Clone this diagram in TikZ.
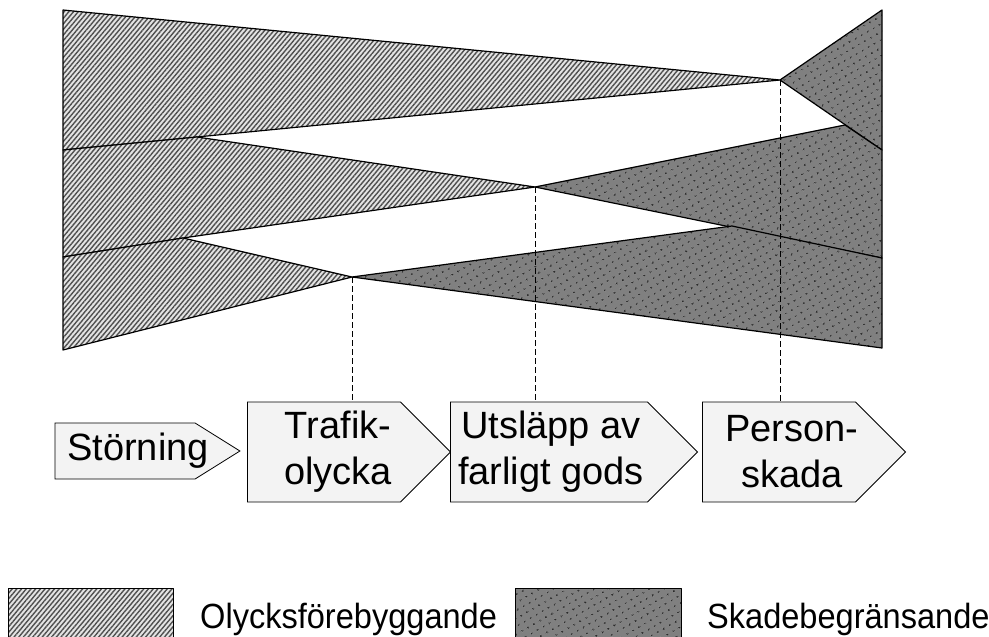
\documentclass[tikz,border=0pt]{standalone}
\usepackage{fontspec}
\setmainfont{Liberation Sans}
\newfontfamily\legendfont[FakeStretch=0.93]{Liberation Sans}
\usetikzlibrary{patterns.meta,shapes.symbols}

\definecolor{hatchbg}{HTML}{E4E4E4}
\definecolor{hatchfg}{HTML}{505050}
\definecolor{dotbg}{HTML}{808080}
\definecolor{dotfg}{HTML}{2A2A2A}
\definecolor{stagefill}{HTML}{F3F3F3}

\tikzset{
  prevent/.style={preaction={fill=hatchbg},
    pattern={Lines[angle=50,distance=3.6pt,line width=1.4pt]},
    pattern color=hatchfg, draw=black, line width=1.2pt, line join=round},
  limit/.style={preaction={fill=dotbg},
    pattern={Dots[angle=30,distance=6.5pt,radius=1.1pt]},
    pattern color=dotfg, draw=black, line width=1.2pt, line join=round},
  stage/.style={signal, signal to=east, draw, line width=0.8pt,
    fill=stagefill, inner sep=0pt,
    minimum height=100pt, minimum width=203pt, signal pointer angle=90},
  stagetext/.style={align=center, inner sep=0pt,
    font=\fontsize{38}{46}\selectfont},
  guide/.style={dash pattern=on 6pt off 3pt, line width=0.9pt},
}

\begin{document}
\begin{tikzpicture}[x=1pt, y=-1pt]
    \useasboundingbox (0,0) rectangle (989,637);

    % apexes of the three bow ties
    \coordinate (apexT) at (352,277);
    \coordinate (apexU) at (535,187);
    \coordinate (apexP) at (780,80);

    % top band: personskada
    \path[prevent] (63,10) -- (apexP) -- (197,137) -- (63,150) -- cycle;
    \path[limit] (apexP) -- (882,10) -- (882,150) -- cycle;

    % middle band: utslapp
    \path[prevent] (63,150) -- (197,137) -- (apexU) -- (183,238) -- (63,257) -- cycle;
    \path[limit] (apexU) -- (845,125) -- (882,150) -- (882,258) -- cycle;

    % bottom band: trafikolycka
    \path[prevent] (63,257) -- (183,238) -- (apexT) -- (63,350) -- cycle;
    \path[limit] (apexT) -- (732,226) -- (882,258) -- (882,348) -- cycle;

    % chain of events
    \node[stage, minimum height=56pt, minimum width=185pt,
      signal pointer angle=64] (stoerning) at (125,451) {};
    \node[stage] (trafik) at (324,452) {};
    \node[stage, minimum width=247pt] (utslapp) at (549,452) {};
    \node[stage] (person) at (779,452) {};

    \node[stagetext] (stoerningtext) at ([xshift=13pt]stoerning.center) {St\"orning};
    \node[stagetext] (trafiktext) at ([xshift=14pt]trafik.center) {Trafik-\\olycka};
    \node[stagetext] (utslapptext) at ([xshift=2pt]utslapp.center)
      {Utsl\"app av\\farligt gods};
    \node[stagetext] (persontext) at ([xshift=13pt]person.center) {Person-\\skada};

    \draw[guide] (apexT) -- (apexT |- trafik.north);
    \draw[guide] (apexU) -- (apexU |- utslapp.north);
    \draw[guide] (apexP) -- (apexP |- person.north);

    % legend
    \path[prevent, line width=0.8pt] (8,588) rectangle (173,645);
    \node[anchor=base west, inner sep=0pt, font=\legendfont\fontsize{35}{42}\selectfont]
      (legprevent) at (200,628) {Olycksf\"orebyggande};
    \path[limit, line width=0.8pt] (515,588) rectangle (681,645);
    \node[anchor=base west, inner sep=0pt, font=\legendfont\fontsize{35}{42}\selectfont]
      (leglimit) at (707,628) {Skadebegr\"ansande};
\end{tikzpicture}
\end{document}
